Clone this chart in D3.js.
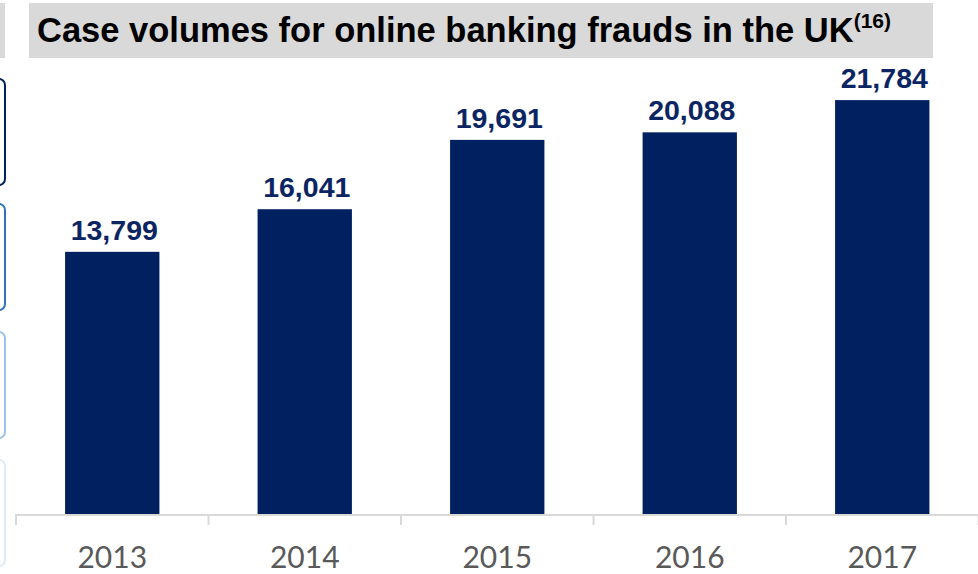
<!DOCTYPE html>
<html>
<head>
<meta charset="utf-8">
<script src="https://cdn.jsdelivr.net/npm/d3@7/dist/d3.min.js"></script>
<style>
  html, body { margin: 0; padding: 0; background: #fff; }
  svg { display: block; }
</style>
</head>
<body>
<svg id="chart" width="978" height="574"></svg>
<script>
// Online banking fraud case volumes, UK
const years = ["2013", "2014", "2015", "2016", "2017"];
const cases = [13799, 16041, 19691, 20088, 21784];
const titleText = "Case volumes for online banking frauds in the UK";
const titleNote = "(16)";

// Side panel outlines from the neighbouring slide section
const sideBoxColors = ["#002060", "#2e75b6", "#9dc3e6", "#deebf7"];
const sideBoxTops = [79, 204, 332, 460];

const W = 978, H = 574;
const svg = d3.select("#chart");

// Side panel pieces (only their right edges are visible)
svg.append("rect").attr("x", -20).attr("y", 3).attr("width", 25).attr("height", 55).attr("fill", "#d9d9d9");
svg.selectAll("rect.side").data(sideBoxColors).join("rect")
  .attr("class", "side")
  .attr("x", -60).attr("y", (d, i) => sideBoxTops[i])
  .attr("width", 65).attr("height", 106)
  .attr("rx", 6).attr("ry", 6)
  .attr("fill", "none").attr("stroke", d => d).attr("stroke-width", 2);

// Title banner
svg.append("rect").attr("x", 29).attr("y", 3).attr("width", 904).attr("height", 55).attr("fill", "#d9d9d9");
const title = svg.append("text")
  .attr("x", 37).attr("y", 42)
  .attr("font-family", "'Liberation Sans', Arial, sans-serif")
  .attr("font-weight", "bold").attr("font-size", 34.5).attr("fill", "#000");
title.append("tspan").text(titleText);
title.append("tspan").attr("font-size", 21).attr("dy", -14).text(titleNote);

// Scales
const x = d3.scaleBand().domain(years).range([16, 978.5]).paddingInner(0.51).paddingOuter(0.255);
const baseY = 514;
const y = d3.scaleLinear().domain([0, 25000]).range([baseY, baseY - 475]);

// Bars
svg.selectAll("rect.bar").data(cases).join("rect")
  .attr("class", "bar")
  .attr("x", (d, i) => x(years[i]))
  .attr("y", d => y(d))
  .attr("width", x.bandwidth())
  .attr("height", d => baseY - y(d))
  .attr("fill", "#002060");

// Value labels
const fmt = d3.format(",");
svg.selectAll("text.val").data(cases).join("text")
  .attr("class", "val")
  .attr("x", (d, i) => x(years[i]) + x.bandwidth() / 2 + 2)
  .attr("y", d => y(d) - 12)
  .attr("text-anchor", "middle")
  .attr("font-family", "'Liberation Sans', Arial, sans-serif")
  .attr("font-weight", "bold").attr("font-size", 28.5).attr("fill", "#0b2563")
  .text(d => fmt(d));

// Category axis with boundary ticks
const axisScale = d3.scalePoint().domain(d3.range(years.length + 1)).range([16, 978.5]);
const axisG = svg.append("g");
axisG.append("line")
  .attr("x1", 16).attr("x2", W).attr("y1", baseY + 1).attr("y2", baseY + 1)
  .attr("stroke", "#d9d9d9").attr("stroke-width", 2);
axisG.selectAll("line.tick").data(axisScale.domain()).join("line")
  .attr("class", "tick")
  .attr("x1", d => axisScale(d)).attr("x2", d => axisScale(d))
  .attr("y1", baseY).attr("y2", baseY + 11)
  .attr("stroke", "#d9d9d9").attr("stroke-width", 2);

svg.selectAll("text.year").data(years).join("text")
  .attr("class", "year")
  .attr("x", d => x(d) + x.bandwidth() / 2)
  .attr("y", 568)
  .attr("text-anchor", "middle")
  .attr("font-family", "Lato, 'Open Sans', sans-serif")
  .attr("font-size", 30).attr("fill", "#595959")
  .text(d => d);
</script>
</body>
</html>
